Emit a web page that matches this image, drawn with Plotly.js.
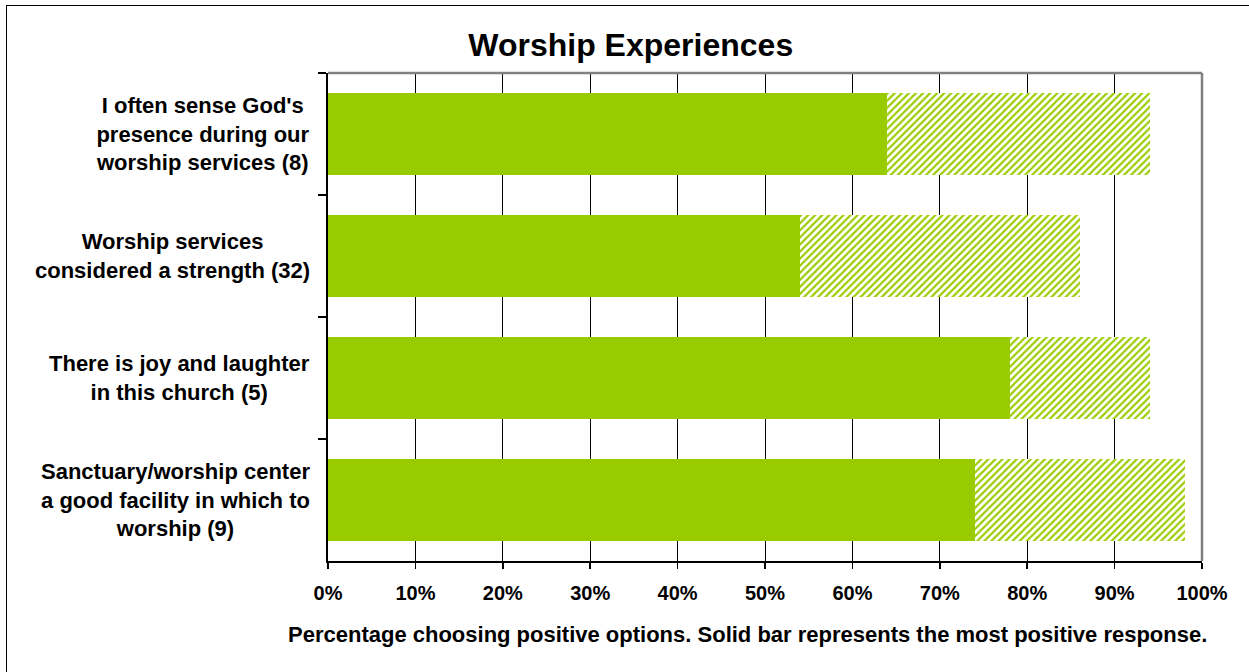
<!DOCTYPE html>
<html>
<head>
<meta charset="utf-8">
<script src="https://cdn.plot.ly/plotly-3.0.1.min.js"></script>
<style>
  html, body { margin: 0; padding: 0; background: #ffffff; }
  #wrap { position: relative; width: 1249px; height: 672px; overflow: hidden; }
  #chart { width: 1249px; height: 672px; }
  #frame { position: absolute; left: 6px; top: 5px; width: 1300px; height: 700px;
           border-left: 1.5px solid #000; border-top: 1.5px solid #000; pointer-events: none; }
</style>
</head>
<body>
<div id="wrap">
  <div id="chart"></div>
  <div id="frame"></div>
</div>
<script>
// ---- data ----
const categories = [
  "I often sense God's<br>presence during our<br>worship services (8)",
  "Worship services<br>considered a strength (32)",
  "There is joy and laughter<br>in this church (5)",
  "Sanctuary/worship center<br>a good facility in which to<br>worship (9)"
];
const mostPositive = [64, 54, 78, 74];   // solid bar
const otherPositive = [30, 32, 16, 24];  // hatched remainder (total = 94, 86, 94, 98)
const xTickValues = [0, 10, 20, 30, 40, 50, 60, 70, 80, 90, 100];
const xTickLabels = ["0%", "10%", "20%", "30%", "40%", "50%", "60%", "70%", "80%", "90%", "100%"];
const chartTitle = "Worship Experiences";
const xAxisTitle = "Percentage choosing positive options. Solid bar represents the most positive response.";

const GREEN = "#99CC00";
const FONT = "Liberation Sans, Arial, sans-serif";

const traces = [
  {
    type: "bar", orientation: "h",
    y: categories, x: mostPositive,
    marker: { color: GREEN, line: { width: 0 } },
    hoverinfo: "x"
  },
  {
    type: "bar", orientation: "h",
    y: categories, x: otherPositive,
    marker: {
      color: "#ffffff",
      line: { width: 0 },
      pattern: { shape: "/", fgcolor: GREEN, bgcolor: "#ffffff", size: 5, solidity: 0.42, fillmode: "replace" }
    },
    hoverinfo: "x"
  }
];

const annotations = categories.map(c => ({
  xref: "paper", yref: "y",
  x: 0, y: c,
  xanchor: "right", yanchor: "middle",
  xshift: -16,
  align: "center",
  showarrow: false,
  text: "<b>" + c + "</b>",
  font: { family: FONT, size: 22, color: "#000" }
}));

// x-axis caption, placed below the tick labels
annotations.push({
  xref: "paper", yref: "paper",
  x: 0.48, y: 0,
  xanchor: "center", yanchor: "middle",
  yshift: -73,
  showarrow: false,
  text: "<b>" + xAxisTitle + "</b>",
  font: { family: FONT, size: 22, color: "#000" }
});

const layout = {
  width: 1249, height: 672,
  margin: { l: 328, r: 47, t: 73, b: 111, pad: 0 },
  paper_bgcolor: "#ffffff",
  plot_bgcolor: "#ffffff",
  showlegend: false,
  barmode: "stack",
  bargap: 0.33,
  title: {
    text: "<b>" + chartTitle + "</b>",
    font: { family: FONT, size: 32, color: "#000" },
    x: 0.505, xref: "container", xanchor: "center",
    y: 0.933, yref: "container", yanchor: "middle"
  },
  xaxis: {
    range: [0, 100],
    tickvals: xTickValues,
    ticktext: xTickLabels.map(t => "<b>" + t + "</b>"),
    tickfont: { family: FONT, size: 20, color: "#000" },
    ticks: "outside", ticklen: 6, tickwidth: 1.5, tickcolor: "#000",
    ticklabelstandoff: 7,
    showgrid: true, gridcolor: "#000", gridwidth: 1,
    showline: true, linecolor: "#000", linewidth: 2,
    zeroline: false,
    fixedrange: true
  },
  yaxis: {
    type: "category",
    autorange: "reversed",
    showticklabels: false,
    ticks: "outside", ticklen: 8, tickwidth: 1.5, tickcolor: "#000",
    tickson: "boundaries",
    showgrid: false,
    showline: true, linecolor: "#000", linewidth: 2.5,
    zeroline: false,
    fixedrange: true
  },
  shapes: [
    { type: "line", xref: "paper", yref: "paper", x0: 0, x1: 1, y0: 1, y1: 1,
      line: { color: "#808080", width: 2.5 } },
    { type: "line", xref: "paper", yref: "paper", x0: 1, x1: 1, y0: 0, y1: 1,
      line: { color: "#808080", width: 2.5 } }
  ],
  annotations: annotations
};

Plotly.newPlot("chart", traces, layout, { displayModeBar: false, staticPlot: true });
</script>
</body>
</html>
